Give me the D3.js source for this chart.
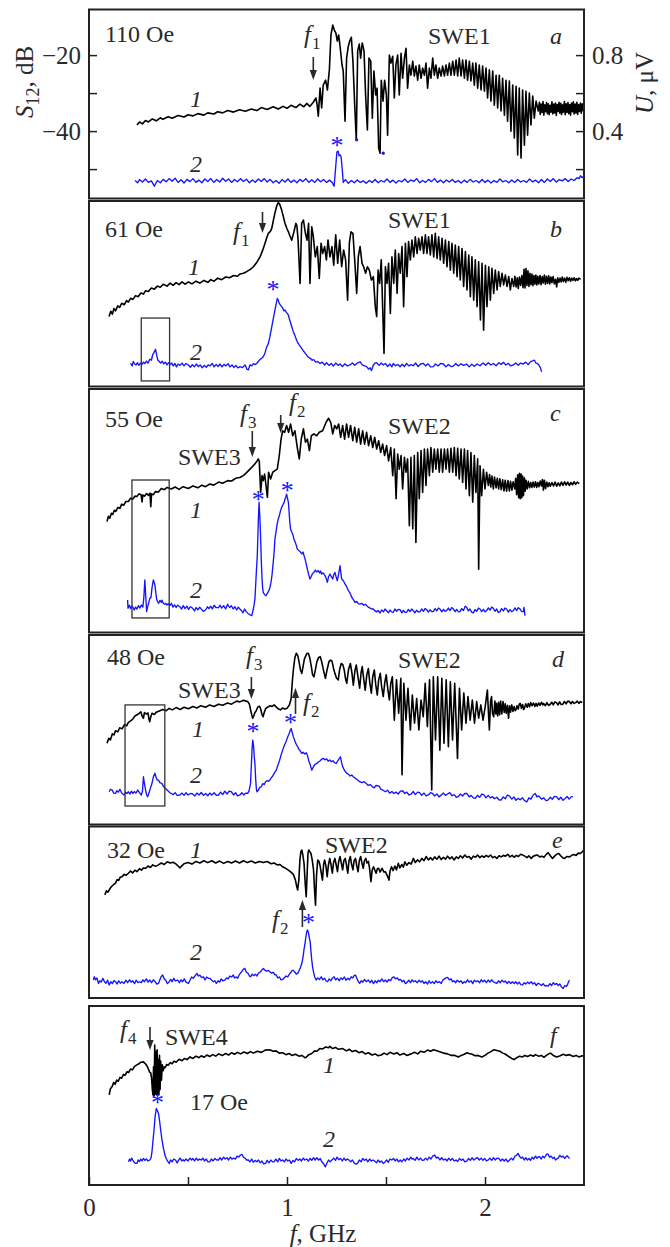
<!DOCTYPE html>
<html><head><meta charset="utf-8">
<script src="https://cdn.jsdelivr.net/npm/d3@7/dist/d3.min.js"></script>
<style>html,body{margin:0;padding:0;background:#fff;}svg{display:block;}</style>
</head><body>
<svg id="chart" width="670" height="1247"></svg>
<script>
// ---------------- DATA (f in GHz; curve 1 = S12 in dB; curve 2 = U in μV) ----------------
const a1 = [[0.242,-38.4],[0.255,-37.6],[0.27,-38.1],[0.285,-37.2],[0.30,-37.6],[0.32,-36.8],[0.34,-37.3],[0.36,-36.5],[0.373,-36.9],[0.40,-36.2],[0.42,-36.6],[0.45,-35.9],[0.48,-36.3],[0.50,-35.7],[0.524,-36.0],[0.55,-35.4],[0.58,-35.8],[0.60,-35.2],[0.63,-35.5],[0.65,-34.9],[0.675,-35.2],[0.70,-34.6],[0.73,-35.0],[0.76,-34.4],[0.79,-34.8],[0.82,-34.2],[0.848,-34.6],[0.87,-33.8],[0.90,-34.3],[0.93,-33.6],[0.956,-34.2],[0.98,-33.5],[1.00,-34.0],[1.02,-33.2],[1.045,-33.8],[1.065,-32.9],[1.085,-33.6],[1.10,-32.7],[1.115,-33.5],[1.133,-32.4],[1.146,-31.3],[1.152,-33.0],[1.158,-36.1],[1.167,-28.7],[1.175,-33.9],[1.183,-27.9],[1.195,-26.6],[1.204,-29.2],[1.214,-23.9],[1.222,-14.7],[1.231,-12.1],[1.239,-13.4],[1.247,-14.2],[1.254,-16.3],[1.261,-14.7],[1.269,-18.2],[1.278,-22.6],[1.284,-24.2],[1.293,-37.4],[1.301,-20.8],[1.310,-17.6],[1.318,-16.1],[1.325,-15.3],[1.333,-21.6],[1.342,-33.2],[1.350,-42.4],[1.357,-18.9],[1.365,-17.1],[1.372,-20.8],[1.380,-16.8],[1.389,-18.9],[1.397,-30.5],[1.406,-39.7],[1.414,-20.8],[1.423,-21.6],[1.431,-36.6],[1.439,-24.2],[1.448,-30.5],[1.455,-28.7],[1.463,-44.5],[1.470,-45.8],[1.476,-26.6],[1.485,-32.1],[1.493,-26.6],[1.502,-30.5],[1.508,-41.1],[1.517,-20.0],[1.525,-22.1],[1.534,-20.3],[1.542,-31.3],[1.550,-22.6],[1.559,-20.0],[1.567,-30.5],[1.576,-19.5],[1.584,-26.1],[1.593,-20.8],[1.601,-18.2],[1.609,-28.7],[1.618,-22.6],[1.626,-25.3],[1.635,-21.6],[1.643,-25.5],[1.651,-22.9],[1.660,-26.6],[1.668,-22.6],[1.677,-26.1],[1.685,-23.4],[1.694,-25.3],[1.702,-22.1],[1.710,-28.7],[1.719,-23.4],[1.727,-26.1],[1.736,-20.8],[1.744,-25.3],[1.752,-22.6],[1.761,-26.1],[1.769,-23.4],[1.778,-25.5],[1.786,-22.9],[1.795,-25.5],[1.803,-22.6],[1.811,-25.3],[1.820,-22.1],[1.828,-25.3],[1.837,-21.6],[1.845,-25.3],[1.854,-21.3],[1.862,-25.5],[1.870,-20.8],[1.879,-25.5],[1.887,-21.3],[1.896,-26.1],[1.904,-21.3],[1.912,-26.6],[1.921,-21.6],[1.929,-26.8],[1.938,-22.1],[1.946,-27.9],[1.954,-22.1],[1.963,-28.7],[1.971,-22.6],[1.980,-29.2],[1.988,-22.9],[1.997,-29.5],[2.005,-23.4],[2.013,-31.3],[2.022,-23.9],[2.030,-32.1],[2.039,-24.2],[2.047,-33.2],[2.056,-25.3],[2.064,-33.9],[2.072,-25.3],[2.081,-34.7],[2.089,-26.1],[2.098,-35.8],[2.106,-26.6],[2.114,-37.4],[2.123,-26.8],[2.131,-40.0],[2.140,-27.9],[2.148,-41.8],[2.157,-28.2],[2.165,-46.3],[2.173,-28.7],[2.182,-47.1],[2.190,-29.2],[2.199,-43.7],[2.207,-29.5],[2.215,-41.1],[2.224,-30.0],[2.232,-38.4],[2.241,-30.8],[2.249,-36.6],[2.258,-32.1],[2.269,-34.7],[2.275,-32.4],[2.279,-35.6],[2.284,-32.9],[2.288,-35.1],[2.293,-32.2],[2.297,-35.8],[2.302,-33.1],[2.306,-34.9],[2.311,-32.5],[2.315,-35.4],[2.32,-32.8],[2.324,-35.7],[2.329,-33.2],[2.333,-35.0],[2.338,-32.3],[2.342,-35.5],[2.347,-32.9],[2.351,-35.2],[2.356,-32.6],[2.36,-35.9],[2.365,-33.0],[2.369,-34.8],[2.374,-32.4],[2.378,-35.3],[2.383,-32.7],[2.387,-35.6],[2.392,-33.1],[2.396,-35.0],[2.401,-32.2],[2.405,-35.7],[2.41,-32.8],[2.414,-35.1],[2.419,-32.5],[2.423,-35.4],[2.428,-33.0],[2.432,-35.8],[2.437,-32.6],[2.441,-34.9],[2.446,-32.3],[2.45,-35.5],[2.455,-32.9],[2.459,-35.2],[2.464,-32.4],[2.468,-35.6],[2.473,-33.0],[2.477,-34.8],[2.482,-32.6],[2.486,-35.3],[2.491,-32.8],[2.495,-34.6],[2.497,-33.6]];
const a2 = [[0.233,0.14],[0.245,0.128],[0.255,0.145],[0.27,0.132],[0.285,0.148],[0.30,0.13],[0.315,0.138],[0.33,0.11],[0.345,0.14],[0.36,0.128],[0.375,0.146],[0.39,0.133],[0.405,0.15],[0.42,0.136],[0.435,0.152],[0.45,0.13],[0.465,0.144],[0.48,0.127],[0.495,0.146],[0.51,0.134],[0.525,0.15],[0.54,0.13],[0.555,0.142],[0.57,0.128],[0.585,0.148],[0.60,0.135],[0.615,0.15],[0.63,0.13],[0.645,0.145],[0.66,0.132],[0.675,0.152],[0.69,0.136],[0.705,0.148],[0.72,0.13],[0.735,0.145],[0.75,0.133],[0.765,0.15],[0.78,0.135],[0.795,0.147],[0.81,0.128],[0.825,0.143],[0.84,0.131],[0.855,0.148],[0.87,0.135],[0.885,0.15],[0.90,0.132],[0.915,0.146],[0.93,0.128],[0.945,0.14],[0.96,0.125],[0.975,0.145],[0.99,0.132],[1.005,0.148],[1.02,0.13],[1.035,0.142],[1.05,0.128],[1.065,0.146],[1.08,0.134],[1.095,0.15],[1.11,0.13],[1.125,0.144],[1.14,0.13],[1.155,0.148],[1.17,0.133],[1.185,0.145],[1.2,0.13],[1.215,0.142],[1.228,0.13],[1.238,0.11],[1.245,0.2],[1.252,0.29],[1.258,0.295],[1.263,0.27],[1.268,0.275],[1.273,0.265],[1.279,0.2],[1.284,0.13],[1.295,0.145],[1.31,0.125],[1.325,0.14],[1.34,0.128],[1.355,0.143],[1.37,0.13],[1.385,0.138],[1.4,0.125],[1.415,0.14],[1.43,0.13],[1.445,0.145],[1.46,0.128],[1.475,0.14],[1.49,0.132],[1.505,0.148],[1.52,0.13],[1.535,0.142],[1.55,0.127],[1.565,0.14],[1.58,0.133],[1.595,0.148],[1.61,0.13],[1.625,0.143],[1.64,0.135],[1.655,0.15],[1.67,0.128],[1.685,0.14],[1.70,0.13],[1.715,0.146],[1.73,0.134],[1.745,0.15],[1.76,0.13],[1.775,0.142],[1.79,0.128],[1.805,0.143],[1.82,0.132],[1.835,0.145],[1.85,0.13],[1.865,0.14],[1.88,0.127],[1.895,0.142],[1.91,0.13],[1.925,0.146],[1.94,0.132],[1.955,0.14],[1.97,0.128],[1.985,0.145],[2.0,0.13],[2.015,0.142],[2.03,0.127],[2.045,0.14],[2.06,0.13],[2.075,0.148],[2.09,0.133],[2.105,0.14],[2.12,0.128],[2.135,0.143],[2.15,0.13],[2.165,0.145],[2.18,0.132],[2.195,0.14],[2.21,0.13],[2.225,0.148],[2.24,0.133],[2.255,0.142],[2.27,0.128],[2.285,0.145],[2.3,0.13],[2.315,0.148],[2.33,0.135],[2.345,0.15],[2.36,0.132],[2.375,0.145],[2.39,0.138],[2.405,0.15],[2.42,0.135],[2.435,0.148],[2.45,0.14],[2.465,0.155],[2.475,0.15],[2.482,0.165],[2.49,0.155],[2.497,0.16]];
const aDots = [[1.352,-42.3],[1.486,-45.8]];

const b1 = [[0.101,-38.4],[0.11,-37.0],[0.118,-37.8],[0.126,-36.3],[0.134,-36.9],[0.145,-35.6],[0.155,-36.0],[0.165,-34.9],[0.178,-35.3],[0.19,-34.2],[0.199,-34.6],[0.21,-33.6],[0.222,-33.9],[0.235,-32.9],[0.248,-33.2],[0.262,-32.2],[0.275,-32.5],[0.286,-31.6],[0.30,-31.8],[0.315,-30.9],[0.33,-31.2],[0.345,-30.4],[0.36,-30.7],[0.375,-29.9],[0.394,-30.4],[0.41,-29.6],[0.425,-30.2],[0.44,-29.5],[0.455,-30.0],[0.47,-29.3],[0.485,-29.9],[0.502,-29.3],[0.52,-29.8],[0.54,-29.1],[0.56,-29.6],[0.58,-28.9],[0.60,-29.4],[0.615,-28.7],[0.632,-29.1],[0.65,-28.3],[0.67,-28.7],[0.69,-28.0],[0.71,-28.2],[0.73,-27.6],[0.75,-27.8],[0.763,-27.2],[0.78,-27.0],[0.796,-26.6],[0.815,-26.0],[0.83,-25.3],[0.848,-24.1],[0.864,-22.7],[0.877,-21.0],[0.889,-19.1],[0.898,-17.6],[0.906,-16.5],[0.912,-16.2],[0.918,-15.8],[0.923,-15.2],[0.93,-13.4],[0.939,-11.2],[0.948,-9.3],[0.956,-8.4],[0.964,-9.0],[0.973,-10.4],[0.982,-12.2],[0.99,-13.9],[1.0,-15.3],[1.007,-16.1],[1.015,-17.2],[1.024,-18.3],[1.035,-16.1],[1.045,-13.9],[1.05,-14.5],[1.056,-18.3],[1.066,-29.7],[1.074,-13.9],[1.083,-13.0],[1.093,-16.5],[1.101,-18.3],[1.109,-13.9],[1.116,-29.7],[1.125,-14.8],[1.133,-17.4],[1.143,-22.7],[1.153,-20.0],[1.163,-28.4],[1.172,-19.1],[1.180,-21.8],[1.190,-20.0],[1.199,-23.5],[1.207,-18.3],[1.217,-22.7],[1.227,-20.0],[1.236,-24.9],[1.246,-16.9],[1.256,-24.4],[1.266,-18.3],[1.276,-25.3],[1.286,-20.9],[1.296,-23.5],[1.306,-34.1],[1.315,-19.1],[1.323,-16.1],[1.333,-16.5],[1.343,-24.4],[1.352,-32.3],[1.360,-22.7],[1.369,-20.0],[1.379,-24.4],[1.387,-25.3],[1.397,-27.0],[1.406,-25.3],[1.416,-26.2],[1.426,-28.8],[1.436,-27.9],[1.446,-35.8],[1.453,-38.4],[1.460,-26.2],[1.468,-29.7],[1.476,-23.5],[1.483,-35.8],[1.490,-48.1],[1.497,-25.3],[1.505,-29.7],[1.513,-24.4],[1.522,-37.6],[1.530,-22.7],[1.539,-29.7],[1.547,-20.9],[1.556,-32.3],[1.564,-21.8],[1.572,-27.0],[1.581,-20.0],[1.589,-35.8],[1.598,-19.1],[1.606,-27.9],[1.614,-18.7],[1.623,-23.5],[1.631,-18.3],[1.640,-22.7],[1.648,-17.4],[1.657,-21.8],[1.665,-17.8],[1.673,-20.9],[1.682,-17.4],[1.690,-21.8],[1.699,-16.9],[1.707,-21.8],[1.715,-17.4],[1.724,-22.2],[1.732,-16.9],[1.741,-22.7],[1.749,-16.5],[1.758,-23.1],[1.766,-17.4],[1.774,-23.5],[1.783,-17.8],[1.791,-24.4],[1.800,-18.3],[1.808,-25.3],[1.817,-18.7],[1.825,-26.2],[1.833,-19.1],[1.842,-27.0],[1.850,-19.6],[1.859,-27.9],[1.867,-20.0],[1.875,-28.8],[1.884,-20.5],[1.892,-30.5],[1.901,-21.3],[1.909,-31.4],[1.918,-22.2],[1.926,-33.2],[1.934,-22.7],[1.943,-34.1],[1.951,-23.5],[1.960,-35.8],[1.968,-24.0],[1.977,-39.3],[1.985,-24.4],[1.993,-42.0],[2.002,-24.9],[2.010,-35.8],[2.019,-25.3],[2.027,-34.1],[2.035,-25.7],[2.044,-32.3],[2.052,-26.2],[2.061,-31.4],[2.069,-26.6],[2.077,-30.5],[2.086,-27.0],[2.094,-30.1],[2.103,-27.5],[2.111,-30.5],[2.120,-27.9],[2.128,-31.4],[2.136,-28.4],[2.145,-30.5],[2.151,-27.8],[2.157,-30.6],[2.163,-28.2],[2.168,-31.0],[2.174,-28.0],[2.180,-30.2],[2.186,-27.6],[2.192,-30.8],[2.197,-26.0],[2.202,-30.9],[2.207,-25.8],[2.212,-30.2],[2.217,-26.4],[2.222,-30.5],[2.227,-27.0],[2.232,-30.0],[2.237,-27.2],[2.242,-30.3],[2.247,-27.6],[2.252,-29.9],[2.257,-27.5],[2.262,-30.1],[2.267,-27.8],[2.272,-29.8],[2.278,-27.6],[2.283,-30.0],[2.289,-27.9],[2.294,-29.6],[2.3,-27.5],[2.305,-29.9],[2.311,-27.8],[2.316,-29.7],[2.322,-27.7],[2.327,-29.8],[2.333,-28.0],[2.338,-29.5],[2.344,-27.9],[2.35,-29.8],[2.356,-28.6],[2.362,-30.6],[2.367,-28.2],[2.373,-29.4],[2.379,-28.3],[2.385,-29.3],[2.39,-28.0],[2.396,-29.2],[2.402,-28.3],[2.408,-29.4],[2.414,-28.1],[2.42,-29.0],[2.426,-28.2],[2.432,-29.1],[2.438,-28.3],[2.444,-28.9],[2.45,-28.2],[2.456,-29.0],[2.462,-28.4],[2.468,-28.9],[2.474,-28.3],[2.483,-28.6]];
const b2 = [[0.21,0.149],[0.218,0.135],[0.224,0.158],[0.231,0.145],[0.238,0.14],[0.245,0.152],[0.252,0.138],[0.26,0.15],[0.268,0.143],[0.275,0.155],[0.282,0.147],[0.29,0.16],[0.298,0.15],[0.307,0.17],[0.315,0.165],[0.322,0.195],[0.328,0.205],[0.336,0.222],[0.342,0.19],[0.348,0.165],[0.355,0.158],[0.362,0.15],[0.37,0.16],[0.378,0.146],[0.386,0.155],[0.394,0.14],[0.402,0.152],[0.41,0.142],[0.418,0.15],[0.426,0.135],[0.434,0.148],[0.442,0.13],[0.45,0.145],[0.46,0.138],[0.47,0.15],[0.48,0.135],[0.49,0.148],[0.502,0.14],[0.512,0.128],[0.522,0.142],[0.532,0.13],[0.542,0.145],[0.552,0.132],[0.562,0.14],[0.572,0.125],[0.582,0.138],[0.592,0.128],[0.602,0.14],[0.612,0.135],[0.622,0.148],[0.632,0.13],[0.642,0.143],[0.652,0.132],[0.662,0.145],[0.672,0.13],[0.682,0.143],[0.692,0.135],[0.702,0.147],[0.712,0.13],[0.722,0.14],[0.732,0.127],[0.742,0.138],[0.752,0.125],[0.763,0.131],[0.775,0.126],[0.788,0.14],[0.798,0.117],[0.805,0.114],[0.813,0.14],[0.822,0.135],[0.83,0.147],[0.84,0.142],[0.847,0.148],[0.855,0.158],[0.864,0.17],[0.872,0.175],[0.88,0.183],[0.888,0.2],[0.896,0.23],[0.906,0.254],[0.914,0.29],[0.923,0.341],[0.931,0.385],[0.939,0.429],[0.945,0.46],[0.951,0.49],[0.956,0.48],[0.961,0.464],[0.967,0.455],[0.973,0.447],[0.978,0.44],[0.984,0.425],[0.990,0.429],[0.996,0.418],[1.002,0.41],[1.007,0.403],[1.012,0.382],[1.018,0.362],[1.024,0.341],[1.031,0.318],[1.038,0.3],[1.045,0.28],[1.052,0.262],[1.06,0.248],[1.067,0.238],[1.074,0.227],[1.082,0.215],[1.09,0.205],[1.099,0.192],[1.108,0.18],[1.118,0.175],[1.127,0.165],[1.135,0.168],[1.145,0.155],[1.155,0.158],[1.167,0.148],[1.178,0.155],[1.19,0.14],[1.20,0.152],[1.212,0.138],[1.224,0.148],[1.234,0.134],[1.246,0.15],[1.258,0.138],[1.268,0.145],[1.28,0.132],[1.292,0.146],[1.305,0.135],[1.318,0.14],[1.33,0.15],[1.342,0.138],[1.355,0.15],[1.369,0.157],[1.38,0.14],[1.392,0.135],[1.402,0.131],[1.412,0.118],[1.42,0.125],[1.427,0.11],[1.436,0.14],[1.445,0.15],[1.453,0.152],[1.465,0.138],[1.476,0.15],[1.486,0.14],[1.497,0.148],[1.508,0.132],[1.52,0.145],[1.53,0.13],[1.537,0.148],[1.548,0.136],[1.56,0.142],[1.571,0.131],[1.582,0.144],[1.593,0.132],[1.604,0.148],[1.615,0.135],[1.627,0.142],[1.638,0.136],[1.65,0.15],[1.662,0.132],[1.675,0.145],[1.689,0.148],[1.7,0.135],[1.712,0.146],[1.725,0.13],[1.739,0.131],[1.75,0.145],[1.763,0.135],[1.776,0.148],[1.79,0.145],[1.802,0.13],[1.815,0.143],[1.828,0.132],[1.84,0.134],[1.852,0.148],[1.865,0.135],[1.878,0.146],[1.892,0.138],[1.907,0.145],[1.92,0.13],[1.933,0.144],[1.946,0.133],[1.96,0.145],[1.975,0.136],[1.99,0.15],[2.003,0.138],[2.017,0.152],[2.03,0.14],[2.042,0.148],[2.056,0.136],[2.07,0.152],[2.082,0.143],[2.093,0.154],[2.105,0.14],[2.118,0.148],[2.13,0.135],[2.143,0.14],[2.155,0.15],[2.168,0.138],[2.18,0.15],[2.194,0.145],[2.205,0.155],[2.218,0.142],[2.23,0.158],[2.241,0.162],[2.25,0.165],[2.257,0.15],[2.264,0.148],[2.272,0.14],[2.28,0.125],[2.286,0.104]];

const c1 = [[0.091,-42.9],[0.098,-41.5],[0.105,-42.0],[0.113,-40.7],[0.12,-41.0],[0.128,-39.9],[0.136,-40.2],[0.145,-39.2],[0.156,-39.4],[0.165,-38.3],[0.175,-38.6],[0.186,-37.6],[0.199,-37.6],[0.21,-36.7],[0.22,-37.0],[0.232,-36.2],[0.242,-36.3],[0.252,-35.6],[0.263,-35.8],[0.268,-37.7],[0.272,-35.9],[0.28,-36.2],[0.291,-35.5],[0.3,-36.0],[0.308,-35.4],[0.312,-39.0],[0.316,-35.6],[0.325,-35.8],[0.335,-35.0],[0.351,-35.1],[0.365,-34.2],[0.38,-34.5],[0.395,-33.9],[0.416,-34.3],[0.435,-33.8],[0.455,-34.4],[0.475,-33.7],[0.502,-34.2],[0.525,-33.5],[0.55,-34.0],[0.57,-33.3],[0.589,-33.7],[0.61,-33.0],[0.63,-33.3],[0.655,-32.5],[0.675,-32.8],[0.70,-32.1],[0.72,-32.2],[0.745,-31.4],[0.762,-31.3],[0.779,-30.8],[0.796,-30.0],[0.813,-29.1],[0.826,-28.4],[0.838,-27.7],[0.848,-27.0],[0.855,-26.4],[0.86,-27.0],[0.867,-35.2],[0.874,-30.8],[0.880,-32.1],[0.887,-30.4],[0.894,-33.4],[0.901,-36.5],[0.907,-29.9],[0.917,-31.7],[0.928,-29.9],[0.939,-29.5],[0.951,-29.1],[0.961,-25.5],[0.970,-21.2],[0.978,-19.0],[0.988,-19.4],[0.998,-17.6],[1.008,-19.4],[1.018,-17.2],[1.029,-20.3],[1.040,-19.0],[1.052,-23.4],[1.062,-26.4],[1.072,-21.2],[1.083,-18.5],[1.093,-22.0],[1.103,-21.2],[1.113,-24.2],[1.123,-20.3],[1.136,-19.8],[1.150,-20.3],[1.163,-19.4],[1.180,-19.0],[1.197,-16.8],[1.210,-15.7],[1.221,-16.8],[1.231,-19.8],[1.241,-17.6],[1.251,-18.5],[1.261,-17.2],[1.271,-20.7],[1.281,-17.6],[1.291,-21.2],[1.301,-17.2],[1.311,-20.7],[1.321,-17.6],[1.332,-21.6],[1.342,-18.1],[1.352,-22.0],[1.362,-18.5],[1.372,-22.5],[1.382,-19.0],[1.392,-22.5],[1.402,-19.4],[1.412,-22.9],[1.423,-20.3],[1.433,-23.4],[1.443,-20.7],[1.453,-23.8],[1.463,-21.6],[1.473,-24.7],[1.483,-22.5],[1.493,-25.5],[1.503,-22.9],[1.513,-26.9],[1.524,-23.4],[1.534,-30.8],[1.542,-23.8],[1.551,-36.9],[1.559,-25.1],[1.567,-29.1],[1.576,-25.5],[1.584,-34.3],[1.593,-26.0],[1.601,-29.9],[1.609,-26.4],[1.618,-44.0],[1.626,-26.0],[1.635,-44.8],[1.643,-25.5],[1.651,-48.4],[1.660,-24.7],[1.668,-36.9],[1.677,-24.2],[1.685,-35.2],[1.694,-23.8],[1.702,-33.4],[1.710,-23.8],[1.719,-30.8],[1.727,-23.4],[1.736,-29.9],[1.744,-23.8],[1.752,-29.1],[1.761,-23.8],[1.769,-29.9],[1.778,-23.8],[1.786,-29.9],[1.795,-23.8],[1.803,-29.1],[1.811,-23.8],[1.820,-29.9],[1.828,-23.6],[1.837,-29.9],[1.845,-23.4],[1.854,-30.8],[1.862,-23.6],[1.870,-31.7],[1.879,-23.8],[1.887,-32.6],[1.896,-23.8],[1.904,-34.3],[1.912,-24.2],[1.921,-36.1],[1.929,-24.7],[1.938,-37.8],[1.946,-25.5],[1.954,-35.2],[1.963,-26.4],[1.968,-55.4],[1.975,-28.2],[1.983,-36.1],[1.992,-29.1],[2.000,-34.3],[2.008,-29.9],[2.017,-33.4],[2.023,-30.5],[2.029,-33.8],[2.035,-30.9],[2.042,-34.3],[2.048,-31.2],[2.056,-34.0],[2.062,-31.5],[2.069,-34.3],[2.075,-31.6],[2.082,-34.5],[2.089,-31.9],[2.096,-34.8],[2.102,-32.0],[2.109,-34.9],[2.116,-32.1],[2.123,-34.8],[2.129,-32.3],[2.136,-34.6],[2.142,-32.4],[2.150,-34.3],[2.155,-31.5],[2.160,-35.8],[2.165,-30.6],[2.170,-36.6],[2.174,-30.2],[2.178,-36.9],[2.182,-30.4],[2.186,-36.6],[2.190,-30.9],[2.194,-36.1],[2.199,-31.4],[2.203,-34.9],[2.207,-32.0],[2.213,-34.3],[2.219,-32.3],[2.225,-34.0],[2.231,-32.6],[2.237,-33.9],[2.243,-32.5],[2.249,-33.8],[2.255,-32.4],[2.261,-33.9],[2.267,-32.6],[2.273,-33.7],[2.279,-32.2],[2.285,-33.5],[2.29,-31.8],[2.295,-34.6],[2.3,-32.0],[2.306,-34.2],[2.312,-32.5],[2.318,-33.7],[2.324,-32.7],[2.33,-33.6],[2.338,-32.6],[2.346,-33.5],[2.354,-32.5],[2.362,-33.6],[2.37,-32.7],[2.378,-33.5],[2.386,-32.5],[2.394,-33.4],[2.402,-32.4],[2.41,-33.3],[2.418,-32.5],[2.426,-33.4],[2.434,-32.6],[2.442,-33.2],[2.45,-32.4],[2.458,-33.1],[2.466,-32.5],[2.476,-32.9]];
const c2 = [[0.195,0.187],[0.197,0.144],[0.204,0.16],[0.21,0.142],[0.215,0.155],[0.221,0.152],[0.228,0.135],[0.235,0.15],[0.242,0.14],[0.25,0.158],[0.257,0.145],[0.264,0.161],[0.272,0.15],[0.277,0.2],[0.282,0.293],[0.286,0.22],[0.291,0.126],[0.296,0.15],[0.302,0.175],[0.307,0.196],[0.313,0.2],[0.318,0.25],[0.325,0.293],[0.329,0.28],[0.333,0.266],[0.338,0.22],[0.342,0.19],[0.346,0.179],[0.352,0.17],[0.358,0.185],[0.365,0.175],[0.368,0.187],[0.375,0.17],[0.382,0.165],[0.388,0.17],[0.394,0.161],[0.40,0.168],[0.408,0.158],[0.416,0.17],[0.424,0.15],[0.432,0.162],[0.44,0.148],[0.448,0.16],[0.459,0.152],[0.468,0.14],[0.476,0.158],[0.485,0.142],[0.494,0.155],[0.503,0.138],[0.512,0.152],[0.524,0.144],[0.533,0.13],[0.541,0.148],[0.55,0.135],[0.559,0.15],[0.568,0.138],[0.577,0.128],[0.589,0.135],[0.598,0.152],[0.606,0.142],[0.615,0.155],[0.623,0.14],[0.632,0.16],[0.641,0.148],[0.654,0.147],[0.662,0.16],[0.67,0.145],[0.68,0.158],[0.69,0.14],[0.70,0.165],[0.71,0.148],[0.719,0.157],[0.728,0.14],[0.737,0.152],[0.746,0.135],[0.754,0.15],[0.762,0.14],[0.77,0.132],[0.778,0.12],[0.786,0.14],[0.795,0.125],[0.805,0.115],[0.816,0.108],[0.822,0.105],[0.83,0.14],[0.835,0.17],[0.838,0.193],[0.842,0.27],[0.846,0.35],[0.850,0.421],[0.855,0.6],[0.859,0.702],[0.863,0.62],[0.867,0.509],[0.870,0.4],[0.874,0.298],[0.877,0.25],[0.880,0.228],[0.887,0.215],[0.894,0.21],[0.902,0.225],[0.908,0.235],[0.914,0.254],[0.919,0.28],[0.924,0.316],[0.93,0.38],[0.935,0.44],[0.939,0.509],[0.945,0.55],[0.95,0.585],[0.956,0.614],[0.962,0.635],[0.967,0.655],[0.973,0.675],[0.98,0.69],[0.985,0.7],[0.990,0.719],[0.994,0.73],[0.998,0.745],[1.003,0.72],[1.007,0.702],[1.01,0.66],[1.014,0.6],[1.018,0.561],[1.024,0.545],[1.03,0.53],[1.035,0.509],[1.042,0.49],[1.047,0.475],[1.052,0.456],[1.058,0.45],[1.063,0.445],[1.069,0.438],[1.075,0.43],[1.081,0.44],[1.086,0.421],[1.092,0.4],[1.099,0.368],[1.105,0.34],[1.11,0.32],[1.116,0.298],[1.122,0.31],[1.128,0.325],[1.136,0.333],[1.143,0.345],[1.15,0.335],[1.158,0.342],[1.165,0.33],[1.17,0.34],[1.175,0.324],[1.183,0.33],[1.192,0.316],[1.198,0.30],[1.204,0.28],[1.21,0.31],[1.217,0.324],[1.224,0.31],[1.231,0.298],[1.236,0.32],[1.242,0.333],[1.248,0.31],[1.254,0.289],[1.26,0.32],[1.265,0.35],[1.268,0.368],[1.272,0.33],[1.276,0.298],[1.284,0.29],[1.293,0.272],[1.3,0.26],[1.31,0.237],[1.318,0.225],[1.327,0.202],[1.335,0.19],[1.343,0.175],[1.352,0.18],[1.36,0.168],[1.369,0.166],[1.378,0.17],[1.387,0.16],[1.395,0.165],[1.402,0.158],[1.41,0.15],[1.42,0.145],[1.428,0.14],[1.436,0.14],[1.445,0.13],[1.452,0.125],[1.46,0.132],[1.47,0.119],[1.478,0.135],[1.487,0.125],[1.495,0.14],[1.503,0.131],[1.512,0.12],[1.52,0.135],[1.528,0.125],[1.537,0.123],[1.545,0.14],[1.554,0.128],[1.562,0.138],[1.571,0.137],[1.58,0.12],[1.588,0.133],[1.596,0.122],[1.604,0.123],[1.613,0.138],[1.621,0.127],[1.63,0.14],[1.638,0.131],[1.646,0.12],[1.655,0.134],[1.664,0.124],[1.672,0.126],[1.68,0.14],[1.689,0.128],[1.697,0.142],[1.705,0.137],[1.714,0.124],[1.722,0.136],[1.731,0.127],[1.739,0.126],[1.748,0.142],[1.756,0.13],[1.765,0.145],[1.773,0.14],[1.782,0.125],[1.79,0.138],[1.798,0.128],[1.806,0.131],[1.815,0.145],[1.823,0.132],[1.832,0.148],[1.84,0.14],[1.849,0.126],[1.857,0.138],[1.866,0.125],[1.874,0.126],[1.882,0.142],[1.891,0.132],[1.9,0.155],[1.907,0.149],[1.916,0.13],[1.924,0.14],[1.933,0.124],[1.941,0.119],[1.95,0.137],[1.958,0.128],[1.967,0.145],[1.975,0.14],[1.983,0.126],[1.992,0.138],[2.0,0.125],[2.008,0.131],[2.017,0.146],[2.025,0.134],[2.034,0.15],[2.042,0.144],[2.05,0.128],[2.059,0.14],[2.067,0.122],[2.076,0.126],[2.084,0.142],[2.093,0.13],[2.101,0.145],[2.109,0.14],[2.118,0.124],[2.126,0.137],[2.135,0.126],[2.143,0.131],[2.151,0.146],[2.16,0.132],[2.168,0.147],[2.177,0.14],[2.185,0.127],[2.194,0.126],[2.197,0.149],[2.202,0.105]];

const d1 = [[0.091,-36.5],[0.1,-35.2],[0.108,-35.6],[0.118,-34.0],[0.126,-34.3],[0.134,-33.2],[0.145,-33.5],[0.155,-32.4],[0.167,-32.7],[0.18,-31.5],[0.19,-31.9],[0.199,-31.0],[0.21,-30.6],[0.22,-30.2],[0.232,-29.3],[0.243,-29.0],[0.253,-28.6],[0.262,-28.2],[0.268,-29.3],[0.275,-29.9],[0.28,-28.4],[0.29,-28.8],[0.298,-28.5],[0.303,-30.2],[0.307,-30.8],[0.312,-29.5],[0.318,-28.6],[0.33,-28.9],[0.34,-28.3],[0.355,-28.0],[0.372,-27.6],[0.39,-27.9],[0.405,-27.3],[0.42,-27.7],[0.44,-27.1],[0.46,-27.6],[0.48,-27.0],[0.502,-27.4],[0.525,-26.8],[0.545,-27.2],[0.565,-26.6],[0.589,-27.0],[0.61,-26.4],[0.63,-26.8],[0.655,-26.2],[0.675,-26.5],[0.70,-25.9],[0.72,-26.2],[0.745,-25.4],[0.762,-25.6],[0.78,-25.2],[0.801,-25.5],[0.81,-26.2],[0.816,-27.7],[0.822,-29.0],[0.827,-29.9],[0.833,-29.2],[0.838,-28.4],[0.844,-28.0],[0.852,-27.0],[0.861,-26.7],[0.868,-27.6],[0.873,-28.8],[0.879,-29.5],[0.885,-28.4],[0.892,-27.4],[0.902,-27.0],[0.915,-26.6],[0.925,-26.8],[0.935,-26.4],[0.945,-26.9],[0.955,-27.4],[0.967,-27.7],[0.978,-27.2],[0.99,-27.5],[1.000,-27.3],[1.012,-26.4],[1.021,-24.7],[1.028,-19.5],[1.034,-16.3],[1.040,-13.9],[1.047,-12.8],[1.055,-13.5],[1.062,-15.4],[1.068,-17.2],[1.075,-18.1],[1.082,-16.0],[1.088,-14.3],[1.093,-13.7],[1.100,-12.9],[1.108,-12.8],[1.115,-14.0],[1.123,-16.3],[1.129,-18.4],[1.136,-19.0],[1.144,-17.0],[1.151,-15.0],[1.160,-13.9],[1.168,-13.7],[1.176,-15.2],[1.184,-17.2],[1.194,-19.4],[1.203,-17.0],[1.212,-15.0],[1.220,-14.6],[1.227,-14.8],[1.235,-16.8],[1.242,-18.1],[1.250,-19.3],[1.259,-19.8],[1.266,-17.0],[1.274,-15.5],[1.282,-15.8],[1.289,-17.2],[1.296,-19.6],[1.302,-20.7],[1.311,-17.0],[1.320,-15.5],[1.328,-18.0],[1.335,-21.2],[1.343,-17.4],[1.350,-15.9],[1.359,-19.2],[1.367,-22.0],[1.374,-18.0],[1.380,-16.3],[1.388,-19.8],[1.395,-22.5],[1.403,-18.5],[1.411,-16.8],[1.418,-20.5],[1.426,-23.3],[1.433,-19.0],[1.441,-17.2],[1.448,-21.0],[1.456,-23.8],[1.463,-19.8],[1.471,-18.1],[1.478,-21.6],[1.486,-24.2],[1.494,-20.5],[1.501,-18.5],[1.509,-22.2],[1.517,-25.1],[1.524,-20.8],[1.532,-19.0],[1.542,-30.4],[1.553,-19.8],[1.564,-28.6],[1.575,-19.4],[1.581,-44.8],[1.590,-20.7],[1.601,-30.4],[1.611,-22.0],[1.623,-33.0],[1.633,-23.8],[1.644,-31.2],[1.655,-24.7],[1.666,-33.0],[1.677,-25.1],[1.688,-29.5],[1.698,-20.7],[1.709,-32.1],[1.720,-19.8],[1.731,-48.8],[1.739,-19.0],[1.750,-35.6],[1.761,-19.0],[1.772,-38.3],[1.782,-19.4],[1.793,-36.5],[1.804,-19.8],[1.815,-37.4],[1.825,-20.3],[1.836,-35.6],[1.847,-20.7],[1.861,-40.5],[1.871,-22.0],[1.882,-33.0],[1.893,-23.3],[1.904,-31.2],[1.914,-24.2],[1.925,-30.4],[1.936,-25.1],[1.947,-31.2],[1.958,-25.5],[1.968,-29.9],[1.979,-26.4],[1.990,-30.4],[2.001,-26.9],[2.008,-24.0],[2.012,-22.5],[2.017,-28.0],[2.022,-33.0],[2.028,-25.5],[2.033,-24.2],[2.038,-28.7],[2.044,-29.5],[2.050,-25.4],[2.055,-28.8],[2.059,-26.0],[2.064,-29.3],[2.069,-25.7],[2.074,-29.0],[2.079,-25.4],[2.085,-28.8],[2.091,-25.5],[2.097,-28.4],[2.102,-26.1],[2.107,-28.6],[2.113,-26.5],[2.119,-29.9],[2.124,-26.6],[2.129,-28.3],[2.135,-26.4],[2.141,-28.1],[2.147,-26.8],[2.152,-27.9],[2.156,-27.7],[2.162,-26.6],[2.168,-27.5],[2.173,-26.2],[2.178,-26.0],[2.184,-27.3],[2.19,-26.3],[2.195,-27.6],[2.199,-27.3],[2.206,-26.1],[2.213,-27.0],[2.219,-26.0],[2.225,-26.9],[2.231,-25.8],[2.238,-26.6],[2.245,-25.9],[2.252,-26.8],[2.258,-26.0],[2.264,-26.7],[2.271,-25.9],[2.278,-26.5],[2.285,-25.7],[2.292,-26.4],[2.296,-26.0],[2.305,-26.6],[2.313,-25.8],[2.321,-26.5],[2.329,-26.3],[2.337,-25.7],[2.345,-26.4],[2.353,-25.6],[2.361,-25.8],[2.369,-26.4],[2.377,-25.6],[2.385,-26.3],[2.393,-26.2],[2.401,-25.5],[2.41,-26.1],[2.418,-25.4],[2.426,-25.5],[2.434,-26.1],[2.442,-25.5],[2.45,-26.0],[2.458,-25.8],[2.466,-25.4],[2.474,-26.0],[2.482,-25.5],[2.491,-25.8]];
const d2 = [[0.102,0.157],[0.108,0.17],[0.117,0.166],[0.125,0.15],[0.134,0.148],[0.14,0.162],[0.148,0.155],[0.156,0.17],[0.165,0.15],[0.177,0.14],[0.185,0.155],[0.192,0.148],[0.199,0.157],[0.207,0.145],[0.214,0.16],[0.221,0.148],[0.229,0.158],[0.237,0.15],[0.246,0.166],[0.255,0.152],[0.264,0.14],[0.27,0.16],[0.275,0.236],[0.28,0.2],[0.286,0.166],[0.291,0.14],[0.296,0.131],[0.303,0.15],[0.312,0.183],[0.318,0.2],[0.325,0.235],[0.333,0.254],[0.34,0.23],[0.345,0.218],[0.351,0.218],[0.358,0.205],[0.368,0.201],[0.376,0.185],[0.385,0.175],[0.394,0.166],[0.402,0.158],[0.41,0.15],[0.416,0.148],[0.425,0.142],[0.435,0.152],[0.445,0.138],[0.459,0.14],[0.47,0.15],[0.48,0.138],[0.49,0.152],[0.5,0.14],[0.512,0.148],[0.524,0.145],[0.535,0.135],[0.545,0.15],[0.556,0.14],[0.567,0.153],[0.578,0.138],[0.589,0.148],[0.6,0.136],[0.61,0.15],[0.62,0.14],[0.632,0.152],[0.643,0.138],[0.654,0.14],[0.665,0.155],[0.675,0.142],[0.686,0.16],[0.697,0.145],[0.708,0.16],[0.719,0.157],[0.73,0.14],[0.74,0.152],[0.75,0.135],[0.762,0.14],[0.772,0.152],[0.782,0.14],[0.792,0.15],[0.801,0.148],[0.808,0.16],[0.813,0.185],[0.816,0.201],[0.82,0.3],[0.824,0.39],[0.827,0.429],[0.831,0.4],[0.834,0.35],[0.838,0.306],[0.842,0.22],[0.845,0.175],[0.848,0.157],[0.855,0.165],[0.862,0.18],[0.87,0.183],[0.878,0.2],[0.885,0.195],[0.892,0.21],[0.9,0.215],[0.906,0.212],[0.913,0.218],[0.92,0.23],[0.928,0.24],[0.936,0.255],[0.946,0.271],[0.955,0.3],[0.962,0.32],[0.97,0.35],[0.978,0.376],[0.986,0.4],[0.995,0.42],[1.004,0.447],[1.01,0.46],[1.016,0.48],[1.021,0.49],[1.026,0.47],[1.032,0.447],[1.038,0.43],[1.045,0.41],[1.054,0.394],[1.06,0.38],[1.068,0.37],[1.075,0.359],[1.082,0.365],[1.09,0.355],[1.097,0.362],[1.103,0.35],[1.11,0.32],[1.117,0.3],[1.125,0.271],[1.132,0.285],[1.14,0.3],[1.151,0.306],[1.16,0.315],[1.168,0.32],[1.176,0.33],[1.184,0.332],[1.192,0.325],[1.2,0.33],[1.208,0.318],[1.216,0.324],[1.225,0.315],[1.232,0.32],[1.24,0.31],[1.249,0.306],[1.256,0.32],[1.263,0.33],[1.27,0.341],[1.276,0.31],[1.281,0.289],[1.29,0.27],[1.302,0.254],[1.31,0.25],[1.318,0.24],[1.327,0.245],[1.335,0.236],[1.345,0.228],[1.355,0.22],[1.367,0.21],[1.378,0.205],[1.39,0.21],[1.4,0.201],[1.41,0.19],[1.42,0.195],[1.432,0.183],[1.44,0.178],[1.45,0.19],[1.465,0.187],[1.475,0.17],[1.485,0.165],[1.497,0.157],[1.508,0.165],[1.518,0.15],[1.53,0.158],[1.54,0.148],[1.55,0.155],[1.562,0.145],[1.573,0.16],[1.584,0.162],[1.595,0.148],[1.605,0.155],[1.616,0.14],[1.627,0.145],[1.638,0.158],[1.648,0.142],[1.66,0.155],[1.67,0.152],[1.68,0.138],[1.692,0.15],[1.703,0.135],[1.714,0.14],[1.725,0.152],[1.735,0.148],[1.745,0.135],[1.757,0.145],[1.768,0.13],[1.779,0.14],[1.79,0.15],[1.8,0.138],[1.811,0.145],[1.822,0.152],[1.833,0.136],[1.844,0.142],[1.855,0.128],[1.865,0.131],[1.876,0.145],[1.887,0.135],[1.898,0.148],[1.908,0.148],[1.92,0.13],[1.93,0.138],[1.941,0.125],[1.951,0.122],[1.962,0.138],[1.973,0.128],[1.984,0.145],[1.995,0.14],[2.005,0.125],[2.016,0.138],[2.027,0.125],[2.038,0.131],[2.048,0.12],[2.06,0.128],[2.07,0.115],[2.081,0.113],[2.092,0.13],[2.103,0.12],[2.113,0.14],[2.124,0.134],[2.135,0.118],[2.146,0.13],[2.156,0.112],[2.167,0.122],[2.178,0.115],[2.189,0.125],[2.2,0.11],[2.211,0.104],[2.222,0.125],[2.232,0.118],[2.243,0.14],[2.254,0.148],[2.262,0.13],[2.27,0.135],[2.275,0.131],[2.286,0.118],[2.297,0.125],[2.308,0.11],[2.318,0.113],[2.33,0.128],[2.34,0.118],[2.35,0.132],[2.361,0.131],[2.372,0.115],[2.383,0.128],[2.394,0.112],[2.405,0.122],[2.415,0.132],[2.425,0.118],[2.435,0.13],[2.444,0.131]];

const e1 = [[0.080,-26.0],[0.088,-24.9],[0.095,-25.3],[0.102,-24.7],[0.11,-24.0],[0.118,-23.6],[0.126,-23.2],[0.134,-22.9],[0.142,-22.0],[0.15,-22.2],[0.158,-21.3],[0.167,-21.2],[0.178,-20.6],[0.188,-20.8],[0.199,-20.3],[0.21,-19.7],[0.22,-20.2],[0.232,-19.5],[0.242,-19.9],[0.255,-19.1],[0.265,-19.5],[0.275,-18.9],[0.286,-19.0],[0.298,-18.4],[0.31,-18.8],[0.322,-18.1],[0.336,-18.5],[0.351,-18.1],[0.365,-17.6],[0.38,-18.0],[0.395,-17.3],[0.41,-17.6],[0.425,-17.4],[0.44,-17.9],[0.45,-18.4],[0.459,-18.9],[0.47,-18.3],[0.48,-17.8],[0.5,-17.5],[0.52,-17.9],[0.54,-17.2],[0.56,-17.6],[0.58,-17.0],[0.6,-17.5],[0.62,-17.0],[0.64,-17.6],[0.66,-17.1],[0.68,-17.7],[0.70,-17.2],[0.72,-17.6],[0.74,-17.1],[0.76,-17.6],[0.78,-17.0],[0.80,-17.5],[0.82,-17.1],[0.84,-17.6],[0.86,-17.2],[0.88,-17.5],[0.90,-17.2],[0.92,-17.8],[0.935,-17.6],[0.95,-18.1],[0.965,-18.0],[0.978,-18.6],[0.99,-18.9],[1.005,-19.4],[1.02,-20.0],[1.032,-20.6],[1.042,-22.0],[1.05,-24.0],[1.054,-24.7],[1.06,-22.0],[1.065,-17.0],[1.070,-14.6],[1.075,-14.2],[1.080,-15.5],[1.086,-17.7],[1.092,-23.0],[1.097,-26.5],[1.102,-20.0],[1.106,-15.0],[1.110,-14.2],[1.115,-14.6],[1.121,-15.1],[1.128,-17.0],[1.134,-19.4],[1.139,-24.5],[1.144,-28.7],[1.149,-21.0],[1.155,-16.8],[1.162,-17.2],[1.168,-18.6],[1.174,-20.5],[1.179,-22.1],[1.185,-18.0],[1.190,-16.8],[1.197,-18.5],[1.203,-21.2],[1.209,-18.2],[1.216,-16.4],[1.222,-18.0],[1.229,-20.3],[1.235,-17.5],[1.242,-16.4],[1.248,-18.0],[1.255,-19.9],[1.261,-17.2],[1.268,-15.9],[1.274,-17.6],[1.281,-19.4],[1.287,-17.0],[1.294,-16.4],[1.300,-18.0],[1.307,-20.3],[1.313,-17.1],[1.320,-15.9],[1.326,-17.9],[1.333,-19.4],[1.339,-17.0],[1.346,-16.4],[1.352,-18.2],[1.359,-19.9],[1.365,-17.0],[1.372,-15.9],[1.378,-17.5],[1.385,-19.0],[1.391,-17.0],[1.398,-16.4],[1.404,-17.6],[1.411,-17.2],[1.417,-19.0],[1.424,-22.5],[1.430,-19.5],[1.437,-18.6],[1.443,-19.4],[1.450,-20.3],[1.456,-19.2],[1.463,-19.0],[1.47,-20.0],[1.48,-19.0],[1.49,-20.0],[1.497,-19.9],[1.505,-20.8],[1.511,-21.5],[1.515,-22.1],[1.52,-19.8],[1.528,-18.6],[1.536,-19.6],[1.545,-18.4],[1.553,-19.4],[1.562,-17.7],[1.57,-18.9],[1.58,-18.0],[1.588,-18.7],[1.595,-17.3],[1.605,-18.2],[1.616,-17.5],[1.627,-17.9],[1.638,-16.4],[1.648,-17.5],[1.659,-16.8],[1.670,-17.3],[1.681,-16.4],[1.692,-17.0],[1.703,-15.9],[1.714,-16.8],[1.725,-16.2],[1.735,-16.8],[1.746,-16.0],[1.757,-16.6],[1.768,-15.8],[1.779,-16.7],[1.79,-16.1],[1.800,-16.6],[1.811,-15.8],[1.822,-16.5],[1.833,-16.0],[1.844,-16.8],[1.855,-16.0],[1.865,-16.4],[1.876,-15.7],[1.887,-16.3],[1.898,-15.5],[1.909,-16.1],[1.92,-15.9],[1.930,-16.6],[1.941,-15.8],[1.952,-16.1],[1.963,-15.5],[1.974,-16.2],[1.985,-15.7],[1.995,-16.1],[2.006,-15.6],[2.017,-16.0],[2.028,-15.5],[2.039,-16.2],[2.05,-15.9],[2.060,-16.4],[2.071,-15.7],[2.082,-16.0],[2.093,-15.6],[2.104,-15.8],[2.115,-15.3],[2.126,-16.0],[2.137,-15.6],[2.147,-16.1],[2.158,-15.6],[2.169,-15.9],[2.18,-15.3],[2.19,-15.5],[2.201,-15.8],[2.212,-16.2],[2.222,-15.7],[2.233,-16.4],[2.244,-15.8],[2.255,-15.6],[2.265,-15.5],[2.276,-16.0],[2.287,-15.8],[2.298,-16.1],[2.308,-15.4],[2.319,-14.9],[2.33,-15.7],[2.341,-16.4],[2.352,-15.8],[2.362,-15.3],[2.373,-15.1],[2.384,-15.8],[2.395,-16.3],[2.402,-16.4],[2.413,-15.9],[2.428,-16.0],[2.44,-15.5],[2.45,-15.4],[2.460,-15.6],[2.471,-15.0],[2.481,-15.1],[2.492,-14.6],[2.503,-14.0]];
const e2 = [[0.022,0.149],[0.027,0.166],[0.033,0.15],[0.04,0.16],[0.048,0.131],[0.055,0.145],[0.062,0.138],[0.07,0.158],[0.078,0.14],[0.086,0.132],[0.094,0.148],[0.102,0.123],[0.11,0.14],[0.118,0.13],[0.126,0.146],[0.134,0.14],[0.142,0.128],[0.15,0.145],[0.158,0.132],[0.166,0.14],[0.177,0.131],[0.186,0.148],[0.195,0.135],[0.205,0.15],[0.213,0.138],[0.221,0.145],[0.23,0.13],[0.238,0.148],[0.247,0.135],[0.255,0.14],[0.264,0.135],[0.272,0.15],[0.28,0.14],[0.29,0.155],[0.298,0.138],[0.307,0.149],[0.316,0.135],[0.325,0.15],[0.334,0.14],[0.342,0.128],[0.351,0.131],[0.358,0.15],[0.365,0.168],[0.372,0.175],[0.38,0.155],[0.388,0.148],[0.396,0.13],[0.405,0.14],[0.413,0.152],[0.42,0.14],[0.428,0.158],[0.436,0.145],[0.448,0.149],[0.456,0.135],[0.465,0.15],[0.473,0.14],[0.481,0.155],[0.49,0.138],[0.502,0.131],[0.51,0.148],[0.518,0.165],[0.526,0.158],[0.535,0.17],[0.545,0.184],[0.552,0.17],[0.56,0.175],[0.569,0.162],[0.578,0.166],[0.586,0.15],[0.594,0.165],[0.602,0.158],[0.61,0.158],[0.62,0.148],[0.629,0.14],[0.636,0.145],[0.643,0.131],[0.652,0.145],[0.66,0.138],[0.668,0.155],[0.676,0.145],[0.686,0.149],[0.695,0.16],[0.703,0.155],[0.711,0.17],[0.72,0.165],[0.729,0.175],[0.735,0.16],[0.743,0.165],[0.751,0.158],[0.758,0.175],[0.765,0.185],[0.772,0.195],[0.779,0.205],[0.787,0.21],[0.795,0.19],[0.803,0.185],[0.81,0.17],[0.816,0.166],[0.824,0.18],[0.832,0.172],[0.84,0.18],[0.848,0.17],[0.856,0.185],[0.864,0.19],[0.872,0.2],[0.881,0.21],[0.889,0.2],[0.897,0.195],[0.905,0.2],[0.913,0.193],[0.922,0.185],[0.93,0.19],[0.938,0.178],[0.946,0.175],[0.954,0.16],[0.962,0.165],[0.97,0.15],[0.978,0.152],[0.986,0.16],[0.995,0.17],[1.004,0.166],[1.012,0.18],[1.02,0.19],[1.026,0.2],[1.032,0.2],[1.04,0.19],[1.047,0.18],[1.054,0.184],[1.062,0.2],[1.068,0.215],[1.075,0.237],[1.081,0.27],[1.086,0.31],[1.091,0.342],[1.096,0.38],[1.100,0.405],[1.104,0.412],[1.109,0.395],[1.113,0.37],[1.117,0.351],[1.121,0.3],[1.125,0.255],[1.129,0.219],[1.134,0.19],[1.14,0.165],[1.147,0.149],[1.155,0.16],[1.164,0.152],[1.173,0.166],[1.181,0.15],[1.19,0.158],[1.197,0.145],[1.205,0.14],[1.213,0.155],[1.222,0.145],[1.23,0.16],[1.238,0.166],[1.246,0.15],[1.255,0.158],[1.264,0.145],[1.272,0.16],[1.281,0.152],[1.29,0.165],[1.298,0.148],[1.307,0.158],[1.315,0.15],[1.324,0.166],[1.332,0.16],[1.339,0.172],[1.346,0.175],[1.352,0.16],[1.358,0.145],[1.367,0.131],[1.375,0.145],[1.383,0.138],[1.392,0.152],[1.4,0.14],[1.411,0.149],[1.42,0.135],[1.428,0.148],[1.437,0.13],[1.445,0.145],[1.454,0.135],[1.462,0.148],[1.47,0.14],[1.479,0.155],[1.488,0.14],[1.497,0.149],[1.506,0.138],[1.514,0.152],[1.523,0.145],[1.531,0.16],[1.54,0.166],[1.548,0.155],[1.557,0.16],[1.565,0.148],[1.573,0.152],[1.582,0.14],[1.59,0.148],[1.598,0.13],[1.605,0.135],[1.615,0.148],[1.624,0.135],[1.632,0.15],[1.64,0.14],[1.648,0.145],[1.658,0.135],[1.667,0.148],[1.675,0.138],[1.684,0.145],[1.692,0.131],[1.7,0.14],[1.71,0.128],[1.718,0.145],[1.726,0.132],[1.735,0.14],[1.744,0.13],[1.752,0.145],[1.76,0.135],[1.77,0.14],[1.779,0.131],[1.787,0.148],[1.795,0.155],[1.803,0.16],[1.811,0.163],[1.82,0.15],[1.829,0.155],[1.836,0.14],[1.843,0.145],[1.852,0.135],[1.86,0.148],[1.87,0.138],[1.879,0.145],[1.887,0.131],[1.895,0.14],[1.903,0.135],[1.912,0.15],[1.92,0.138],[1.93,0.145],[1.938,0.13],[1.946,0.148],[1.955,0.14],[1.963,0.145],[1.973,0.135],[1.981,0.15],[1.99,0.14],[1.998,0.148],[2.007,0.135],[2.016,0.149],[2.025,0.138],[2.033,0.15],[2.042,0.14],[2.05,0.135],[2.06,0.131],[2.068,0.145],[2.077,0.135],[2.086,0.148],[2.095,0.138],[2.103,0.144],[2.112,0.13],[2.12,0.142],[2.13,0.131],[2.138,0.14],[2.147,0.131],[2.155,0.14],[2.164,0.128],[2.172,0.138],[2.181,0.125],[2.19,0.123],[2.198,0.135],[2.206,0.128],[2.215,0.138],[2.224,0.13],[2.233,0.14],[2.242,0.128],[2.25,0.135],[2.259,0.12],[2.268,0.132],[2.276,0.128],[2.285,0.12],[2.294,0.13],[2.302,0.118],[2.31,0.12],[2.319,0.117],[2.328,0.13],[2.336,0.12],[2.345,0.135],[2.353,0.125],[2.362,0.131],[2.37,0.12],[2.378,0.128],[2.386,0.112],[2.395,0.105],[2.403,0.12],[2.41,0.115],[2.416,0.123],[2.422,0.14],[2.427,0.149]];

const f1 = [[0.102,-31.4],[0.108,-29.8],[0.117,-29.2],[0.125,-28.1],[0.132,-28.6],[0.14,-27.5],[0.148,-27.8],[0.156,-26.8],[0.165,-27.0],[0.174,-26.0],[0.183,-26.2],[0.192,-25.3],[0.2,-25.5],[0.21,-24.6],[0.22,-24.8],[0.23,-23.9],[0.242,-23.5],[0.252,-23.2],[0.262,-22.8],[0.275,-22.7],[0.285,-23.2],[0.293,-23.8],[0.300,-24.6],[0.306,-25.4],[0.312,-25.6],[0.316,-27.0],[0.32,-30.0],[0.323,-31.4],[0.326,-24.0],[0.329,-31.6],[0.332,-18.3],[0.335,-31.2],[0.338,-20.0],[0.341,-31.4],[0.344,-19.5],[0.347,-31.0],[0.35,-22.0],[0.353,-31.4],[0.356,-21.0],[0.359,-30.0],[0.362,-22.5],[0.366,-27.5],[0.370,-23.5],[0.375,-25.0],[0.38,-24.0],[0.385,-24.2],[0.392,-23.4],[0.4,-23.6],[0.41,-22.9],[0.42,-23.2],[0.43,-22.5],[0.44,-22.8],[0.455,-22.0],[0.47,-22.4],[0.481,-21.8],[0.495,-22.1],[0.51,-21.4],[0.525,-21.8],[0.54,-21.2],[0.555,-21.6],[0.567,-21.1],[0.58,-21.5],[0.595,-20.9],[0.61,-21.3],[0.625,-20.8],[0.64,-21.2],[0.655,-20.6],[0.675,-21.0],[0.69,-20.5],[0.705,-20.9],[0.72,-20.3],[0.735,-20.7],[0.75,-20.2],[0.765,-20.6],[0.783,-20.1],[0.80,-20.5],[0.815,-20.0],[0.83,-20.4],[0.85,-19.9],[0.87,-20.2],[0.89,-19.6],[0.913,-19.5],[0.93,-19.9],[0.945,-19.8],[0.96,-20.4],[0.978,-20.3],[0.995,-20.8],[1.01,-20.5],[1.025,-21.0],[1.043,-20.7],[1.06,-21.2],[1.075,-21.0],[1.09,-21.6],[1.097,-21.5],[1.11,-20.8],[1.125,-20.5],[1.14,-19.8],[1.151,-19.9],[1.165,-19.2],[1.18,-19.3],[1.195,-18.8],[1.21,-19.0],[1.216,-18.6],[1.23,-19.2],[1.245,-18.9],[1.26,-19.4],[1.281,-19.2],[1.3,-19.8],[1.315,-19.4],[1.33,-20.0],[1.346,-19.7],[1.365,-20.3],[1.38,-20.0],[1.395,-20.6],[1.411,-20.3],[1.43,-20.9],[1.445,-20.6],[1.46,-21.1],[1.476,-20.9],[1.49,-20.4],[1.505,-20.8],[1.52,-20.2],[1.54,-20.6],[1.555,-20.3],[1.57,-20.9],[1.59,-20.5],[1.605,-21.0],[1.627,-20.6],[1.645,-20.2],[1.66,-20.6],[1.675,-19.9],[1.692,-20.2],[1.71,-19.6],[1.725,-19.9],[1.74,-19.5],[1.757,-19.8],[1.775,-20.1],[1.79,-20.4],[1.811,-20.6],[1.83,-21.0],[1.848,-21.0],[1.865,-21.4],[1.88,-21.0],[1.895,-20.7],[1.91,-20.3],[1.919,-20.5],[1.935,-20.7],[1.95,-21.1],[1.965,-21.0],[1.984,-21.4],[2.0,-21.0],[2.015,-20.4],[2.03,-20.0],[2.045,-19.5],[2.06,-19.7],[2.075,-19.9],[2.09,-20.4],[2.104,-20.7],[2.12,-21.3],[2.135,-21.8],[2.147,-22.1],[2.16,-21.6],[2.175,-21.2],[2.19,-21.4],[2.201,-21.0],[2.215,-21.3],[2.23,-20.9],[2.245,-21.2],[2.255,-20.8],[2.27,-21.2],[2.285,-21.0],[2.298,-21.5],[2.31,-21.0],[2.322,-20.6],[2.33,-20.4],[2.345,-21.0],[2.362,-21.4],[2.38,-21.1],[2.395,-20.7],[2.41,-21.0],[2.427,-20.8],[2.445,-21.3],[2.46,-21.0],[2.475,-21.4],[2.49,-21.1],[2.503,-21.3]];
const f2 = [[0.199,0.131],[0.205,0.145],[0.21,0.135],[0.216,0.15],[0.221,0.14],[0.228,0.128],[0.235,0.122],[0.242,0.122],[0.248,0.14],[0.255,0.132],[0.262,0.145],[0.268,0.135],[0.275,0.148],[0.282,0.138],[0.29,0.145],[0.298,0.135],[0.307,0.14],[0.313,0.15],[0.318,0.183],[0.323,0.24],[0.329,0.306],[0.334,0.37],[0.340,0.411],[0.345,0.4],[0.351,0.385],[0.356,0.35],[0.361,0.306],[0.368,0.25],[0.376,0.201],[0.384,0.165],[0.39,0.148],[0.396,0.135],[0.405,0.122],[0.412,0.14],[0.42,0.13],[0.428,0.145],[0.437,0.14],[0.445,0.125],[0.452,0.138],[0.46,0.15],[0.468,0.135],[0.475,0.142],[0.481,0.134],[0.49,0.145],[0.5,0.135],[0.51,0.15],[0.518,0.14],[0.524,0.148],[0.533,0.135],[0.542,0.15],[0.55,0.138],[0.558,0.145],[0.567,0.14],[0.575,0.15],[0.583,0.135],[0.592,0.145],[0.601,0.13],[0.61,0.131],[0.618,0.145],[0.627,0.135],[0.636,0.148],[0.645,0.14],[0.654,0.14],[0.662,0.152],[0.67,0.14],[0.68,0.155],[0.688,0.145],[0.697,0.152],[0.705,0.14],[0.714,0.155],[0.722,0.145],[0.731,0.15],[0.74,0.145],[0.748,0.16],[0.756,0.155],[0.764,0.165],[0.772,0.17],[0.78,0.155],[0.788,0.15],[0.796,0.14],[0.805,0.14],[0.813,0.13],[0.822,0.145],[0.83,0.128],[0.839,0.138],[0.848,0.131],[0.856,0.14],[0.865,0.125],[0.873,0.135],[0.882,0.12],[0.892,0.122],[0.9,0.138],[0.909,0.125],[0.918,0.14],[0.927,0.13],[0.935,0.131],[0.944,0.145],[0.953,0.13],[0.961,0.148],[0.97,0.135],[0.978,0.14],[0.987,0.13],[0.995,0.145],[1.004,0.135],[1.012,0.14],[1.021,0.122],[1.03,0.138],[1.038,0.13],[1.047,0.148],[1.056,0.138],[1.065,0.145],[1.073,0.135],[1.082,0.15],[1.09,0.14],[1.1,0.145],[1.108,0.134],[1.117,0.148],[1.125,0.138],[1.134,0.152],[1.142,0.14],[1.151,0.152],[1.16,0.14],[1.168,0.148],[1.176,0.13],[1.184,0.122],[1.19,0.11],[1.194,0.104],[1.2,0.12],[1.21,0.14],[1.218,0.13],[1.227,0.14],[1.236,0.15],[1.245,0.138],[1.253,0.155],[1.262,0.142],[1.27,0.148],[1.279,0.135],[1.288,0.15],[1.296,0.138],[1.305,0.145],[1.313,0.14],[1.322,0.13],[1.33,0.14],[1.339,0.125],[1.348,0.118],[1.356,0.122],[1.365,0.14],[1.374,0.13],[1.382,0.148],[1.391,0.138],[1.4,0.145],[1.408,0.13],[1.417,0.145],[1.426,0.135],[1.435,0.14],[1.443,0.134],[1.452,0.125],[1.46,0.14],[1.469,0.128],[1.477,0.135],[1.486,0.122],[1.495,0.13],[1.503,0.14],[1.512,0.128],[1.52,0.145],[1.529,0.14],[1.538,0.148],[1.546,0.135],[1.555,0.145],[1.563,0.13],[1.572,0.14],[1.58,0.131],[1.59,0.145],[1.598,0.135],[1.607,0.15],[1.616,0.14],[1.625,0.155],[1.632,0.145],[1.638,0.148],[1.647,0.138],[1.656,0.155],[1.665,0.14],[1.674,0.15],[1.683,0.138],[1.692,0.14],[1.7,0.15],[1.709,0.14],[1.718,0.155],[1.727,0.145],[1.736,0.16],[1.746,0.166],[1.754,0.15],[1.763,0.155],[1.772,0.14],[1.781,0.152],[1.79,0.14],[1.8,0.145],[1.808,0.135],[1.817,0.15],[1.826,0.138],[1.835,0.148],[1.844,0.135],[1.854,0.14],[1.862,0.132],[1.871,0.148],[1.88,0.138],[1.889,0.145],[1.898,0.13],[1.908,0.134],[1.917,0.148],[1.926,0.138],[1.935,0.152],[1.944,0.14],[1.953,0.148],[1.962,0.152],[1.971,0.14],[1.98,0.15],[1.989,0.138],[1.998,0.148],[2.007,0.135],[2.016,0.14],[2.025,0.15],[2.034,0.138],[2.043,0.152],[2.052,0.14],[2.061,0.15],[2.07,0.148],[2.079,0.135],[2.088,0.145],[2.097,0.135],[2.106,0.145],[2.115,0.13],[2.124,0.14],[2.133,0.15],[2.142,0.14],[2.151,0.16],[2.16,0.165],[2.167,0.175],[2.174,0.16],[2.182,0.15],[2.19,0.155],[2.198,0.14],[2.206,0.152],[2.214,0.14],[2.222,0.148],[2.23,0.138],[2.238,0.155],[2.246,0.145],[2.255,0.16],[2.263,0.148],[2.27,0.158],[2.276,0.157],[2.284,0.145],[2.292,0.16],[2.3,0.152],[2.308,0.165],[2.313,0.172],[2.319,0.17],[2.326,0.155],[2.334,0.16],[2.342,0.148],[2.35,0.155],[2.356,0.14],[2.362,0.145],[2.37,0.15],[2.378,0.165],[2.386,0.155],[2.394,0.16],[2.402,0.148],[2.41,0.158],[2.416,0.162],[2.421,0.155],[2.427,0.148]];

// tick values / labels
const xTicks = [0, 0.5, 1, 1.5, 2];
const xTickLabels = ['0', '', '1', '', '2'];
const s12Ticks = [-20, -30, -40, -50];
const s12TickLabels = ['\u221220', '', '\u221240', ''];
const uTicks = [0.8, 0.6, 0.4, 0.2];
const uTickLabels = ['0.8', '', '0.4', ''];
const fieldLabels = ['110 Oe', '61 Oe', '55 Oe', '48 Oe', '32 Oe', '17 Oe'];
const panelLetters = ['a', 'b', 'c', 'd', 'e', 'f'];

// ---------------- LAYOUT ----------------
const FONT = '"Liberation Serif","Times New Roman",Times,serif';
const TXT = '#2a2a2a';
const BLUE = '#1414ff';
const PX_PER_DB = 3.8, PX_PER_UV = 190;
const svg = d3.select('#chart');
const x = d3.scaleLinear().domain([0, 2.5]).range([89, 584]);

const panels = [
  {top: 9.5, bottom: 198.5, uTop: 1.04, black: a1, blue: a2},
  {top: 201, bottom: 386.5, uTop: 1.003, black: b1, blue: b2},
  {top: 389, bottom: 632.5, uTop: 1.298, black: c1, blue: c2},
  {top: 635, bottom: 824.5, uTop: 0.982, black: d1, blue: d2},
  {top: 826.5, bottom: 998, uTop: 0.957, black: e1, blue: e2},
  {top: 1006, bottom: 1185, uTop: 0.9505, black: f1, blue: f2}
];
panels.forEach(p => {
  const h = p.bottom - p.top;
  p.yB = d3.scaleLinear().domain([-8 - h / PX_PER_DB, -8]).range([p.bottom, p.top]);
  p.yU = d3.scaleLinear().domain([p.uTop - h / PX_PER_UV, p.uTop]).range([p.bottom, p.top]);
});

function txt(g, px, py, s, o = {}) {
  return g.append('text').attr('x', px).attr('y', py).text(s)
    .attr('font-family', FONT).attr('font-size', o.size || 24)
    .attr('font-style', o.italic ? 'italic' : 'normal')
    .attr('fill', o.fill || TXT).attr('text-anchor', o.anchor || 'start');
}
function fsub(g, px, py, sub) {
  const t = g.append('text').attr('x', px).attr('y', py)
    .attr('font-family', FONT).attr('font-size', 25).attr('fill', TXT);
  t.append('tspan').attr('font-style', 'italic').text('f');
  t.append('tspan').attr('font-size', 17).attr('dy', 6).attr('dx', 1).text(sub);
}
function arrow(g, ax, y1, y2) {
  const dir = y2 > y1 ? 1 : -1;
  const hl = 10;
  g.append('line').attr('x1', ax).attr('x2', ax).attr('y1', y1).attr('y2', y2 - dir * hl + dir * 1)
    .attr('stroke', TXT).attr('stroke-width', 1.6);
  g.append('path').attr('d', `M${ax - 3.6},${y2 - dir * hl} L${ax + 3.6},${y2 - dir * hl} L${ax},${y2} Z`).attr('fill', TXT);
}
function star(g, px, cy) {
  txt(g, px, cy + 11, '*', {size: 26, fill: BLUE, anchor: 'middle'});
}

const line = (yS) => d3.line().x(d => x(d[0])).y(d => yS(d[1]));

panels.forEach((p, i) => {
  const g = svg.append('g');
  g.append('path').datum(p.blue).attr('d', line(p.yU)).attr('fill', 'none')
    .attr('stroke', BLUE).attr('stroke-width', 1.35).attr('stroke-linejoin', 'round');
  g.append('path').datum(p.black).attr('d', line(p.yB)).attr('fill', 'none')
    .attr('stroke', '#000').attr('stroke-width', 1.6).attr('stroke-linejoin', 'round');
  g.append('rect').attr('x', x(0)).attr('y', p.top).attr('width', x(2.5) - x(0)).attr('height', p.bottom - p.top)
    .attr('fill', 'none').attr('stroke', '#222').attr('stroke-width', 2);
  p.g = g;
});

// blue dots at trough bottoms in panel a
aDots.forEach(d => panels[0].g.append('circle').attr('cx', x(d[0])).attr('cy', panels[0].yB(d[1])).attr('r', 1.6).attr('fill', BLUE));

// boxes (frequency range, blue-signal range)
const boxes = [[1, 0.264, 0.407, 0.387, 0.056], [2, 0.217, 0.405, 0.819, 0.093], [3, 0.182, 0.383, 0.614, 0.082]];
boxes.forEach(([i, f0, f1v, u0, u1]) => {
  const p = panels[i];
  p.g.append('rect').attr('x', x(f0)).attr('y', p.yU(u0)).attr('width', x(f1v) - x(f0)).attr('height', p.yU(u1) - p.yU(u0))
    .attr('fill', 'none').attr('stroke', '#333').attr('stroke-width', 1.3);
});

// ---------------- AXES (panel a: left dB, right μV; panel f: bottom GHz) ----------------
const pa = panels[0];
const axL = svg.append('g').attr('transform', `translate(${x(0)},0)`)
  .call(d3.axisLeft(pa.yB).tickValues(s12Ticks).tickSize(-8).tickPadding(8)
    .tickFormat((d, k) => s12TickLabels[k]));
const axR = svg.append('g').attr('transform', `translate(${x(2.5)},0)`)
  .call(d3.axisRight(pa.yU).tickValues(uTicks).tickSize(-8).tickPadding(8)
    .tickFormat((d, k) => uTickLabels[k]));
const pf = panels[5];
const axB = svg.append('g').attr('transform', `translate(0,${pf.bottom})`)
  .call(d3.axisBottom(x).tickValues(xTicks).tickSize(-8).tickPadding(13)
    .tickFormat((d, k) => xTickLabels[k]));
[axL, axR, axB].forEach(a => {
  a.select('.domain').remove();
  a.selectAll('line').attr('stroke', '#222').attr('stroke-width', 1.5);
  a.selectAll('text').attr('font-family', FONT).attr('font-size', 25).attr('fill', TXT);
});

// axis titles
const tl = svg.append('text').attr('transform', 'translate(33,82) rotate(-90)').attr('text-anchor', 'middle')
  .attr('font-family', FONT).attr('font-size', 25).attr('fill', TXT);
tl.append('tspan').attr('font-style', 'italic').text('S');
tl.append('tspan').attr('font-size', 18).attr('dy', 6).text('12');
tl.append('tspan').attr('dy', -6).text(', dB');
const tr = svg.append('text').attr('transform', 'translate(653,83) rotate(-90)').attr('text-anchor', 'middle')
  .attr('font-family', FONT).attr('font-size', 25).attr('fill', TXT);
tr.append('tspan').attr('font-style', 'italic').text('U');
tr.append('tspan').text(', \u03bcV');
const tb = svg.append('text').attr('x', 323).attr('y', 1242).attr('text-anchor', 'middle')
  .attr('font-family', FONT).attr('font-size', 25).attr('fill', TXT);
tb.append('tspan').attr('font-style', 'italic').text('f');
tb.append('tspan').text(', GHz');

// ---------------- ANNOTATIONS ----------------
const G = panels.map(p => p.g);
// a
txt(G[0], 105, 42, fieldLabels[0]);
txt(G[0], 550, 44, panelLetters[0], {italic: true});
txt(G[0], 428, 44, 'SWE1');
fsub(G[0], 304, 43, '1');
arrow(G[0], 313.3, 57, 80);
txt(G[0], 190, 107, '1', {italic: true});
txt(G[0], 190, 172, '2', {italic: true});
star(G[0], 337, 143);
// b
txt(G[1], 105, 237, fieldLabels[1]);
txt(G[1], 550, 237, panelLetters[1], {italic: true});
txt(G[1], 388, 228, 'SWE1');
fsub(G[1], 233, 240, '1');
arrow(G[1], 262.5, 212, 233);
txt(G[1], 188, 275, '1', {italic: true});
txt(G[1], 190, 360, '2', {italic: true});
star(G[1], 273, 287);
// c
txt(G[2], 105, 427, fieldLabels[2]);
txt(G[2], 550, 421, panelLetters[2], {italic: true});
txt(G[2], 388, 434, 'SWE2');
txt(G[2], 178, 465, 'SWE3');
fsub(G[2], 240, 422, '3');
arrow(G[2], 252.3, 431, 457);
fsub(G[2], 289, 411, '2');
arrow(G[2], 280.7, 415, 433);
txt(G[2], 190, 518, '1', {italic: true});
txt(G[2], 190, 598, '2', {italic: true});
star(G[2], 258.3, 497);
star(G[2], 287.3, 488);
// d
txt(G[3], 107, 665, fieldLabels[3]);
txt(G[3], 552, 667, panelLetters[3], {italic: true});
txt(G[3], 398, 668, 'SWE2');
txt(G[3], 178, 698, 'SWE3');
fsub(G[3], 246, 664, '3');
arrow(G[3], 251.4, 677, 699);
fsub(G[3], 303, 711, '2');
arrow(G[3], 295.5, 714, 688);
txt(G[3], 192, 737, '1', {italic: true});
txt(G[3], 190, 783, '2', {italic: true});
star(G[3], 253, 729);
star(G[3], 290.4, 720);
// e
txt(G[4], 107, 858, fieldLabels[4]);
txt(G[4], 190, 858, '1', {italic: true});
txt(G[4], 325, 853, 'SWE2');
txt(G[4], 552, 848, panelLetters[4], {italic: true});
fsub(G[4], 272, 928, '2');
arrow(G[4], 302.4, 927, 900);
star(G[4], 308.4, 920);
txt(G[4], 190, 960, '2', {italic: true});
// f
fsub(G[5], 120, 1038, '4');
arrow(G[5], 150, 1027, 1050);
txt(G[5], 165, 1045, 'SWE4');
txt(G[5], 550, 1043, panelLetters[5], {italic: true});
txt(G[5], 323, 1073, '1', {italic: true});
txt(G[5], 190, 1110, fieldLabels[5]);
star(G[5], 157.6, 1100);
txt(G[5], 323, 1147, '2', {italic: true});
</script>
</body></html>
